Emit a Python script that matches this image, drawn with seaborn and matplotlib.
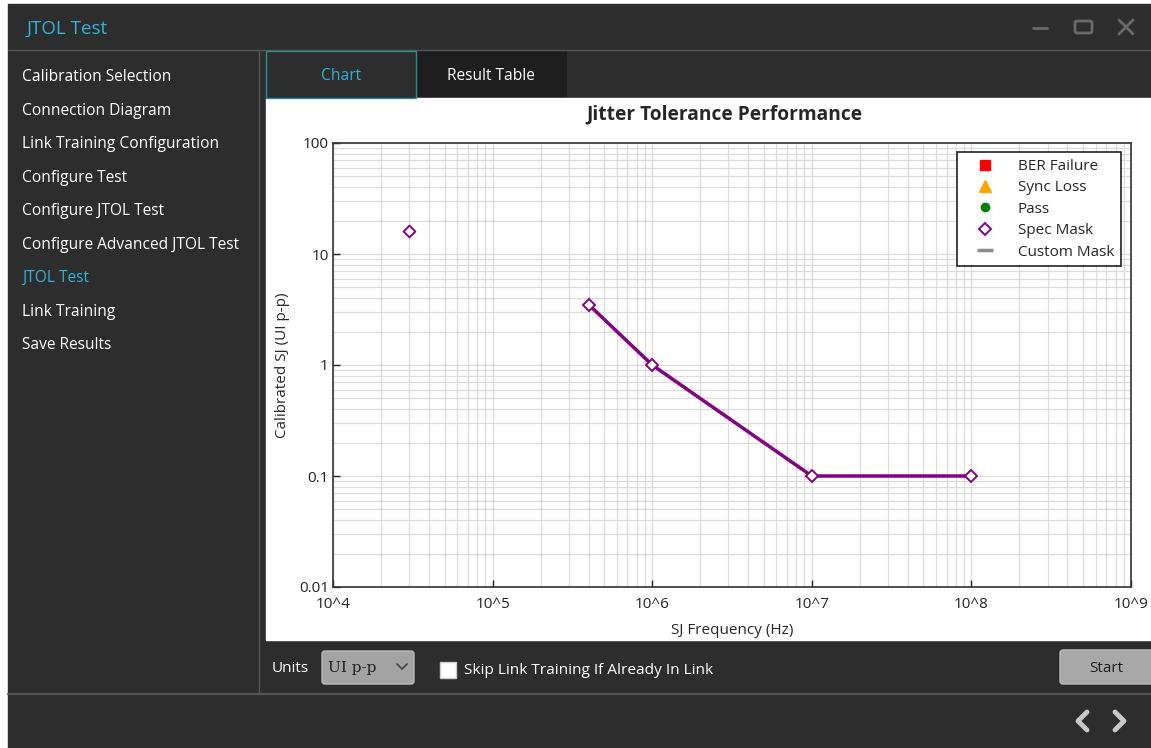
import matplotlib
matplotlib.use("Agg")
import matplotlib.pyplot as plt
import seaborn as sns
from matplotlib.patches import Rectangle, FancyBboxPatch
from matplotlib.lines import Line2D

# --- data ---
nav_items = ['Calibration Selection', 'Connection Diagram', 'Link Training Configuration',
             'Configure Test', 'Configure JTOL Test', 'Configure Advanced JTOL Test',
             'JTOL Test', 'Link Training', 'Save Results']
active_item = 'JTOL Test'
tabs = ['Chart', 'Result Table']

mask_freq = [4e5, 1e6, 1e7, 1e8]
mask_sj = [3.5, 1.0, 0.1, 0.1]
lone_freq = [3e4]
lone_sj = [16]

x_ticks = [1e4, 1e5, 1e6, 1e7, 1e8, 1e9]
x_tick_labels = ['10^4', '10^5', '10^6', '10^7', '10^8', '10^9']
y_ticks = [0.01, 0.1, 1, 10, 100]
y_tick_labels = ['0.01', '0.1', '1', '10', '100']

legend_labels = ['BER Failure', 'Sync Loss', 'Pass', 'Spec Mask', 'Custom Mask']

# --- style ---
sns.set_style("white")
plt.rcParams['font.family'] = ['Open Sans', 'DejaVu Sans']

W, H = 1151, 748
DARK = '#2d2d2d'
SEP = '#555555'
CYAN = '#2fb2dc'
PURPLE = '#800080'

fig = plt.figure(figsize=(W / 100, H / 100), dpi=100)
fig.patch.set_facecolor('white')

# background axes in pixel coords for the window chrome
bg = fig.add_axes([0, 0, 1, 1])
bg.set_xlim(0, W)
bg.set_ylim(H, 0)
bg.axis('off')

bg.add_patch(Rectangle((8, 4), W - 8, H - 4, color=DARK, zorder=0))
# title bar
bg.text(27, 29, 'JTOL Test', color=CYAN, fontsize=13.5, va='center')
bg.plot([8, W], [50, 50], color=SEP, lw=1)
# window buttons
bg.plot([1033, 1047], [28, 28], color='#6a6a6a', lw=2)
bg.add_patch(FancyBboxPatch((1075, 21), 17, 12, boxstyle='round,pad=0,rounding_size=2',
                            fill=False, ec='#6a6a6a', lw=2))
bg.plot([1119, 1133], [20, 34], color='#6a6a6a', lw=2)
bg.plot([1119, 1133], [34, 20], color='#6a6a6a', lw=2)

# sidebar
bg.plot([259, 259], [50, 694], color=SEP, lw=1)
for i, item in enumerate(nav_items):
    c = CYAN if item == active_item else 'white'
    bg.text(22, 77 + i * 33.5, item, color=c, fontsize=11.2, va='center')

# tabs
bg.add_patch(Rectangle((416, 51), 150, 47, color='#1e1e1e', zorder=1))
bg.add_patch(Rectangle((266, 51), 150, 47, fc=DARK, ec='#2a8b9b', lw=1, zorder=2))
bg.text(341, 76, tabs[0], color=CYAN, fontsize=11.2, ha='center', va='center', zorder=3)
bg.text(491, 76, tabs[1], color='white', fontsize=11.2, ha='center', va='center', zorder=3)

# chart panel
bg.add_patch(Rectangle((266, 98), W - 266, 542, color='white', zorder=1))
bg.text(724, 114, 'Jitter Tolerance Performance', fontsize=13.8, fontweight='bold',
        ha='center', va='center', zorder=3)

# bottom controls
bg.text(272, 668, 'Units', color='white', fontsize=11, va='center')
bg.add_patch(FancyBboxPatch((322, 651), 92, 33, boxstyle='round,pad=0,rounding_size=3',
                            fc='#a3a3a3', ec='#bcbcbc', lw=1))
bg.text(328, 668, 'UI p-p', color='#1e1e1e', fontsize=11, va='center',
        family=['DejaVu Serif'])
bg.plot([397, 402, 407], [664, 669, 664], color='#444444', lw=1.2)
bg.add_patch(Rectangle((440, 662), 16, 16, fc='white', ec='#cccccc', lw=1))
bg.text(464, 670, 'Skip Link Training If Already In Link', color='white', fontsize=11.1,
        va='center')
bg.add_patch(FancyBboxPatch((1060, 650), 100, 34, boxstyle='round,pad=0,rounding_size=3',
                            fc='#a8a8a8', ec='#bcbcbc', lw=1))
bg.text(1106, 668, 'Start', color='#1e1e1e', fontsize=11, ha='center', va='center')
bg.plot([8, W], [694, 694], color=SEP, lw=1.5)
# footer arrows
bg.plot([1087, 1078, 1087], [712, 721, 730], color='#c8c8c8', lw=3.5,
        solid_capstyle='round', solid_joinstyle='round')
bg.plot([1115, 1124, 1115], [712, 721, 730], color='#c8c8c8', lw=3.5,
        solid_capstyle='round', solid_joinstyle='round')

# --- chart axes ---
ax_l, ax_r, ax_t, ax_b = 333, 1131, 143, 587
ax = fig.add_axes([ax_l / W, 1 - ax_b / H, (ax_r - ax_l) / W, (ax_b - ax_t) / H])
ax.set_facecolor('white')
ax.set_xscale('log')
ax.set_yscale('log')
ax.set_xlim(1e4, 1e9)
ax.set_ylim(0.01, 100)

ax.grid(which='both', color='#dcdcdc', linewidth=0.9)
ax.set_axisbelow(True)

sns.lineplot(x=mask_freq, y=mask_sj, ax=ax, color=PURPLE, linewidth=2.5, sort=False,
             marker='D', markersize=6, markerfacecolor='white',
             markeredgecolor=PURPLE, markeredgewidth=1.4, zorder=3)
sns.scatterplot(x=lone_freq, y=lone_sj, ax=ax, marker='D', s=36, facecolor='white',
                edgecolor=PURPLE, linewidth=1.4, zorder=3)

ax.set_xticks(x_ticks)
ax.set_xticklabels(x_tick_labels)
ax.set_yticks(y_ticks)
ax.set_yticklabels(y_tick_labels)
ax.tick_params(which='major', direction='in', length=5, width=1, labelsize=11,
               colors='#222222', left=True, bottom=True)
ax.tick_params(which='minor', length=0)
ax.tick_params(axis='x', pad=7)
ax.tick_params(axis='y', pad=3)
for s in ax.spines.values():
    s.set_color('#333333')
    s.set_linewidth(1.2)

ax.set_xlabel('SJ Frequency (Hz)', fontsize=11, labelpad=8)
ax.set_ylabel('Calibrated SJ (UI p-p)', fontsize=11, labelpad=6)

handles = [
    Line2D([], [], ls='none', marker='s', color='red', markersize=7),
    Line2D([], [], ls='none', marker='^', color='orange', markersize=8),
    Line2D([], [], ls='none', marker='o', color='green', markersize=6),
    Line2D([], [], ls='none', marker='D', markerfacecolor='white',
           markeredgecolor=PURPLE, markeredgewidth=1.4, markersize=6),
    Line2D([], [], ls='none', marker='_', color='#8c8c8c', markersize=12,
           markeredgewidth=2.5),
]
leg = ax.legend(handles, legend_labels, loc='upper right',
                bbox_to_anchor=((1121 - ax_l) / (ax_r - ax_l), (ax_b - 152) / (ax_b - ax_t)),
                fontsize=11, frameon=True, fancybox=False, edgecolor='#222222',
                framealpha=1, handlelength=2.8, handletextpad=0.75, borderpad=0.45,
                labelspacing=0.42, borderaxespad=0)
leg.get_frame().set_linewidth(1.2)

fig.savefig('out.png', dpi=100)
